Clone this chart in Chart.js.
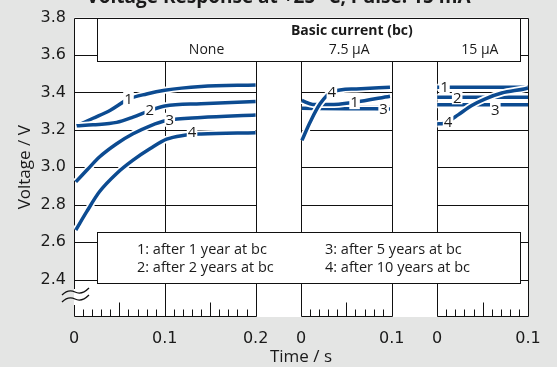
<!DOCTYPE html>
<html>
<head>
<meta charset="utf-8">
<script src="https://cdn.jsdelivr.net/npm/chart.js@4.4.1/dist/chart.umd.min.js"></script>
<style>
  html, body { margin: 0; padding: 0; background: #e4e5e4; }
  canvas { display: block; }
</style>
</head>
<body>
<canvas id="myChart" width="557" height="367"></canvas>
<script>
// three panels share one time axis: each panel gets its own start on it
const panelNames = ['None', '7.5 \u00b5A', '15 \u00b5A'];
const panelStart = [0, 0.25, 0.4];
const panelSpan = [0.2, 0.1, 0.1];

const yTicks = [2.4, 2.6, 2.8, 3.0, 3.2, 3.4, 3.6, 3.8];

// [time in s, voltage in V] per curve and panel
const none1 = [[0.003,3.222],[0.021,3.262],[0.04,3.305],[0.06,3.364],[0.08,3.392],[0.1,3.412],[0.14,3.432],[0.2,3.44]];
const none2 = [[0.003,3.222],[0.021,3.227],[0.047,3.24],[0.065,3.268],[0.084,3.304],[0.1,3.328],[0.14,3.34],[0.2,3.352]];
const none3 = [[0.002,2.922],[0.014,2.984],[0.028,3.055],[0.047,3.126],[0.065,3.179],[0.084,3.222],[0.102,3.25],[0.14,3.266],[0.2,3.279]];
const none4 = [[0.002,2.665],[0.014,2.763],[0.028,2.869],[0.047,2.967],[0.065,3.038],[0.084,3.1],[0.102,3.15],[0.12,3.17],[0.14,3.178],[0.2,3.185]];

const bc75_1 = [[0.001,3.357],[0.013,3.336],[0.032,3.335],[0.059,3.348],[0.098,3.38]];
const bc75_2 = [[0.001,3.322],[0.05,3.321],[0.098,3.32]];
const bc75_3 = [[0.001,3.315],[0.05,3.313],[0.098,3.312]];
const bc75_4 = [[0.001,3.144],[0.01,3.241],[0.021,3.339],[0.034,3.403],[0.061,3.419],[0.098,3.428]];

const bc15_1 = [[0,3.428],[0.1,3.428]];
const bc15_2 = [[0,3.374],[0.1,3.374]];
const bc15_3 = [[0,3.334],[0.1,3.334]];
const bc15_4 = [[0,3.232],[0.007,3.234],[0.012,3.245],[0.023,3.28],[0.038,3.33],[0.053,3.366],[0.071,3.397],[0.097,3.42],[0.1,3.424]];

// curve number labels: [panel, time, voltage, text]
const curveLabels = [
  [0,0.06,3.366,'1'],[0,0.0835,3.306,'2'],[0,0.1055,3.254,'3'],[0,0.13,3.19,'4'],
  [1,0.034,3.405,'4'],[1,0.059,3.348,'1'],[1,0.091,3.312,'3'],
  [2,0.008,3.428,'1'],[2,0.022,3.374,'2'],[2,0.064,3.31,'3'],[2,0.012,3.242,'4']
];

const legendLines = ['1: after 1 year at bc', '2: after 2 years at bc', '3: after 5 years at bc', '4: after 10 years at bc'];

const curves = [
  [0, none1], [0, none2], [0, none3], [0, none4],
  [1, bc75_2], [1, bc75_3], [1, bc75_1], [1, bc75_4],
  [2, bc15_1], [2, bc15_2], [2, bc15_3], [2, bc15_4]
];

const blue = '#0c4b91';
const ink = '#1a1a1a';

const datasets = [];
curves.forEach(([p, pts], k) => {
  const data = pts.map(d => ({x: panelStart[p] + d[0], y: d[1]}));
  datasets.push({ data: data, borderColor: '#ffffff', borderWidth: 7, order: 1000 - 2 * k });
  datasets.push({ data: data, borderColor: blue, borderWidth: 3.5, order: 999 - 2 * k });
});
datasets.forEach(d => {
  d.type = 'line';
  d.pointRadius = 0;
  d.fill = false;
  d.cubicInterpolationMode = 'monotone';
  d.borderCapStyle = 'butt';
});

const xTicks = [];
panelStart.forEach((s, i) => {
  for (let v = 0; v <= panelSpan[i] + 1e-9; v += 0.1) xTicks.push(+(s + v).toFixed(3));
});

function localTime(v) {
  for (let i = panelStart.length - 1; i >= 0; i--) {
    if (v >= panelStart[i] - 1e-9) return v - panelStart[i];
  }
  return v;
}

function hline(ctx, x1, x2, y) { ctx.beginPath(); ctx.moveTo(x1, y); ctx.lineTo(x2, y); ctx.stroke(); }
function vline(ctx, x, y1, y2) { ctx.beginPath(); ctx.moveTo(x, y1); ctx.lineTo(x, y2); ctx.stroke(); }

const framePlugin = {
  id: 'frame',
  beforeDraw(chart) {
    const {ctx, chartArea: a, scales: {x, y}} = chart;
    ctx.save();
    ctx.fillStyle = '#e4e5e4';
    ctx.fillRect(0, 0, chart.width, chart.height);
    ctx.fillStyle = '#ffffff';
    ctx.fillRect(a.left, a.top, a.right - a.left, a.bottom - a.top);

    // title, cut off at the top edge
    ctx.fillStyle = ink;
    ctx.font = 'bold 19px "Open Sans"';
    ctx.textAlign = 'center';
    ctx.textBaseline = 'alphabetic';
    ctx.fillText('Voltage Response at +25 \u00b0C, Pulse: 15 mA', chart.width / 2, 3);

    ctx.strokeStyle = '#111';
    ctx.lineWidth = 1;
    const top = Math.round(y.getPixelForValue(3.8)) + 0.5;
    const bot = Math.round(a.bottom) - 0.5;
    panelStart.forEach((s, i) => {
      const l = Math.round(x.getPixelForValue(s)) + 0.5;
      const r = Math.round(x.getPixelForValue(s + panelSpan[i])) + 0.5;
      yTicks.forEach(v => hline(ctx, l, r, Math.round(y.getPixelForValue(v)) + 0.5));
      hline(ctx, l, r, bot);
      if (i === 0) {
        vline(ctx, l, top, 289);
        vline(ctx, l, 305, bot);
      } else {
        vline(ctx, l, top, bot);
      }
      vline(ctx, r, top, bot);
      // inner 0.1 s lines
      for (let v = 0.1; v < panelSpan[i] - 1e-9; v += 0.1) {
        vline(ctx, Math.round(x.getPixelForValue(s + v)) + 0.5, top, bot);
      }
      // minor ticks every 0.01 s
      const n = Math.round(panelSpan[i] / 0.01);
      for (let j = 1; j < n; j++) {
        if (j % 10 === 0) continue;
        const px = Math.round(x.getPixelForValue(s + j * 0.01)) + 0.5;
        vline(ctx, px, bot - (j % 5 === 0 ? 14 : 7), bot);
      }
    });

    // axis break mark
    ctx.lineWidth = 1.3;
    ctx.strokeStyle = '#111';
    [292, 299].forEach(yy => {
      ctx.beginPath();
      ctx.moveTo(62, yy + 3);
      ctx.bezierCurveTo(67, yy - 2, 71, yy - 2, 75, yy);
      ctx.bezierCurveTo(79, yy + 2, 84, yy + 1, 89, yy - 4);
      ctx.stroke();
    });
    ctx.restore();
  },
  afterDatasetsDraw(chart) {
    const {ctx, chartArea: a, scales: {x, y}} = chart;
    ctx.save();
    // curve numbers
    ctx.font = '15px "Open Sans"';
    ctx.textAlign = 'center';
    ctx.textBaseline = 'middle';
    curveLabels.forEach(([p, t, v, s]) => {
      const px = x.getPixelForValue(panelStart[p] + t);
      const py = y.getPixelForValue(v);
      const w = ctx.measureText(s).width + 2;
      ctx.fillStyle = '#fff';
      ctx.fillRect(px - w / 2, py - 7, w, 14);
      ctx.fillStyle = ink;
      ctx.fillText(s, px, py + 1);
    });

    // boxes
    ctx.strokeStyle = '#111';
    ctx.lineWidth = 1;
    const bl = Math.round(a.left + 23) + 0.5;
    const br = Math.round(a.right - 8) + 0.5;
    [[18, 61], [232, 283]].forEach(([t, b]) => {
      ctx.fillStyle = '#fff';
      ctx.fillRect(bl, t + 0.5, br - bl, b - t);
      ctx.strokeRect(bl, t + 0.5, br - bl, b - t);
    });

    ctx.fillStyle = ink;
    ctx.textAlign = 'center';
    ctx.font = 'bold 14px "Open Sans"';
    ctx.fillText('Basic current (bc)', x.getPixelForValue(0.306), 31);
    ctx.font = '14px "Open Sans"';
    const nameAt = [0.146, 0.303, 0.447];
    panelNames.forEach((s, i) => ctx.fillText(s, x.getPixelForValue(nameAt[i]), 50));

    ctx.textAlign = 'left';
    ctx.font = '14.5px "Open Sans"';
    legendLines.forEach((s, i) => {
      const col = Math.floor(i / 2), row = i % 2;
      ctx.fillText(s, col === 0 ? 137 : 325, 250 + row * 18);
    });
    ctx.restore();
  }
};

new Chart(document.getElementById('myChart'), {
  data: { datasets: datasets },
  options: {
    responsive: false,
    animation: false,
    layout: { padding: { top: 15, right: 29, left: 0, bottom: 0 } },
    plugins: { legend: { display: false }, tooltip: { enabled: false } },
    scales: {
      x: {
        type: 'linear',
        min: 0,
        max: 0.5,
        grid: { display: false, drawTicks: false },
        border: { display: false },
        afterBuildTicks: s => { s.ticks = xTicks.map(v => ({value: v})); },
        afterFit: s => { s.height = 50; },
        ticks: {
          autoSkip: false,
          maxRotation: 0,
          padding: 12,
          color: ink,
          font: { family: 'DejaVu Sans', size: 16 },
          callback: v => String(+localTime(v).toFixed(2))
        },
        title: { display: true, text: 'Time / s', color: ink, font: { family: 'Open Sans', size: 17 }, padding: { top: 0, bottom: 0 } }
      },
      y: {
        type: 'linear',
        min: 2.2,
        max: 3.8,
        grid: { display: false, drawTicks: false },
        border: { display: false },
        afterBuildTicks: s => { s.ticks = yTicks.map(v => ({value: v})); },
        afterFit: s => { s.width = 74; },
        ticks: {
          padding: 8,
          color: ink,
          font: { family: 'DejaVu Sans', size: 16 },
          callback: v => v.toFixed(1)
        },
        title: { display: true, text: 'Voltage / V', color: ink, font: { family: 'Open Sans', size: 17 }, padding: { top: 15, bottom: 0 } }
      }
    }
  },
  plugins: [framePlugin]
});
</script>
</body>
</html>
